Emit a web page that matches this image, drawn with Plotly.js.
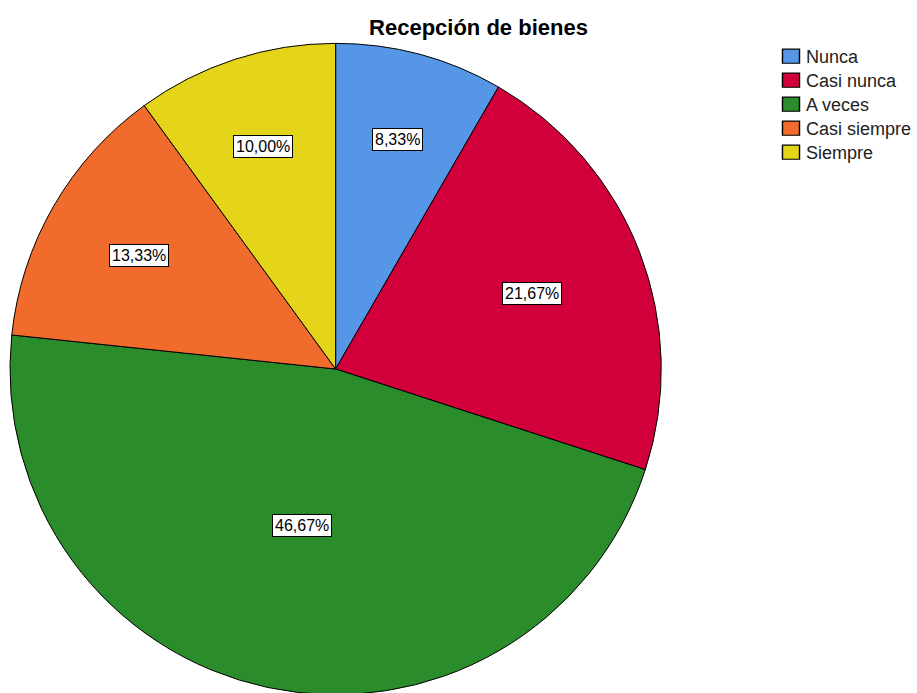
<!DOCTYPE html>
<html>
<head>
<meta charset="utf-8">
<script src="https://cdn.plot.ly/plotly-3.0.1.min.js"></script>
<style>
html,body{margin:0;padding:0;overflow:hidden;background:#fff;}
#chart{width:917px;height:700px;}
</style>
</head>
<body>
<div id="chart"></div>
<script>
// Data
const categories = ["Nunca", "Casi nunca", "A veces", "Casi siempre", "Siempre"];
const counts = [5, 13, 28, 8, 6];
const colors = ["#5596E6", "#D2003A", "#2A8C2A", "#F06B2C", "#E4D51B"];

// Layout constants (pixels)
const W = 917, H = 700;
const CX = 336, CY = 369, R = 326;
const LEGEND_STEP = 24;

const total = counts.reduce((a, b) => a + b, 0);
const pctText = counts.map(v => (v / total * 100).toFixed(2).replace('.', ',') + '%');

// Label annotations placed along each slice's mid-angle
const annotations = [];
let cum = 0;
counts.forEach((v, i) => {
  const f = v / total;
  const mid = (cum + f / 2) * 2 * Math.PI; // clockwise from 12 o'clock
  cum += f;
  const rr = R * (0.78 - 0.62 * f);
  const px = CX + rr * Math.sin(mid);
  const py = CY - rr * Math.cos(mid);
  annotations.push({
    x: px / W, y: 1 - py / H, xref: 'paper', yref: 'paper',
    text: pctText[i], showarrow: false,
    font: {family: 'Liberation Sans, Arial, sans-serif', size: 16, color: '#000'},
    bgcolor: '#ffffff', bordercolor: '#000000', borderwidth: 1, borderpad: 2,
    xanchor: 'center', yanchor: 'middle'
  });
});

const trace = {
  type: 'pie',
  labels: categories,
  values: counts,
  sort: false,
  direction: 'clockwise',
  rotation: 0,
  textinfo: 'none',
  hoverinfo: 'skip',
  marker: {colors: colors, line: {color: '#000000', width: 1}},
  domain: {x: [(CX - R) / W, (CX + R) / W], y: [1 - (CY + R) / H, 1 - (CY - R) / H]}
};

const layout = {
  width: W, height: H,
  margin: {l: 0, r: 0, t: 0, b: 0},
  paper_bgcolor: '#ffffff',
  plot_bgcolor: '#ffffff',
  title: {
    text: 'Recepción de bienes',
    font: {family: 'Liberation Sans, Arial, sans-serif', size: 22, color: '#000', weight: 'bold'},
    x: 479 / W, xanchor: 'center', xref: 'paper',
    y: 1 - 27 / H, yanchor: 'middle', yref: 'paper'
  },
  showlegend: true,
  legend: {
    x: 767 / W, xanchor: 'left', y: 1 - 38 / H, yanchor: 'top',
    font: {family: 'Liberation Sans, Arial, sans-serif', size: 18, color: '#222'},
    bgcolor: 'rgba(0,0,0,0)', borderwidth: 0, tracegroupgap: 0,
    itemclick: false, itemdoubleclick: false
  },
  annotations: annotations
};

Plotly.newPlot('chart', [trace], layout, {displayModeBar: false, staticPlot: true}).then(gd => {
  // widen legend swatches to match the reference's rectangular keys
  gd.querySelectorAll('g.legend path.legendpie').forEach(p => {
    const t = p.getAttribute('transform') || '';
    p.setAttribute('transform', t + ' translate(5,0) scale(1.42,1.17)');
    p.style.strokeWidth = '1px';
  });
  // tighten legend row spacing
  const items = gd.querySelectorAll('g.legend g.traces');
  let y0 = null;
  items.forEach((g, i) => {
    const m = /translate\(\s*([-\d.]+)[ ,]+([-\d.]+)\s*\)/.exec(g.getAttribute('transform') || '');
    if (!m) return;
    const x = parseFloat(m[1]), y = parseFloat(m[2]);
    if (y0 === null) y0 = y;
    g.setAttribute('transform', 'translate(' + x + ',' + (y0 + i * LEGEND_STEP) + ')');
  });
});
</script>
</body>
</html>
